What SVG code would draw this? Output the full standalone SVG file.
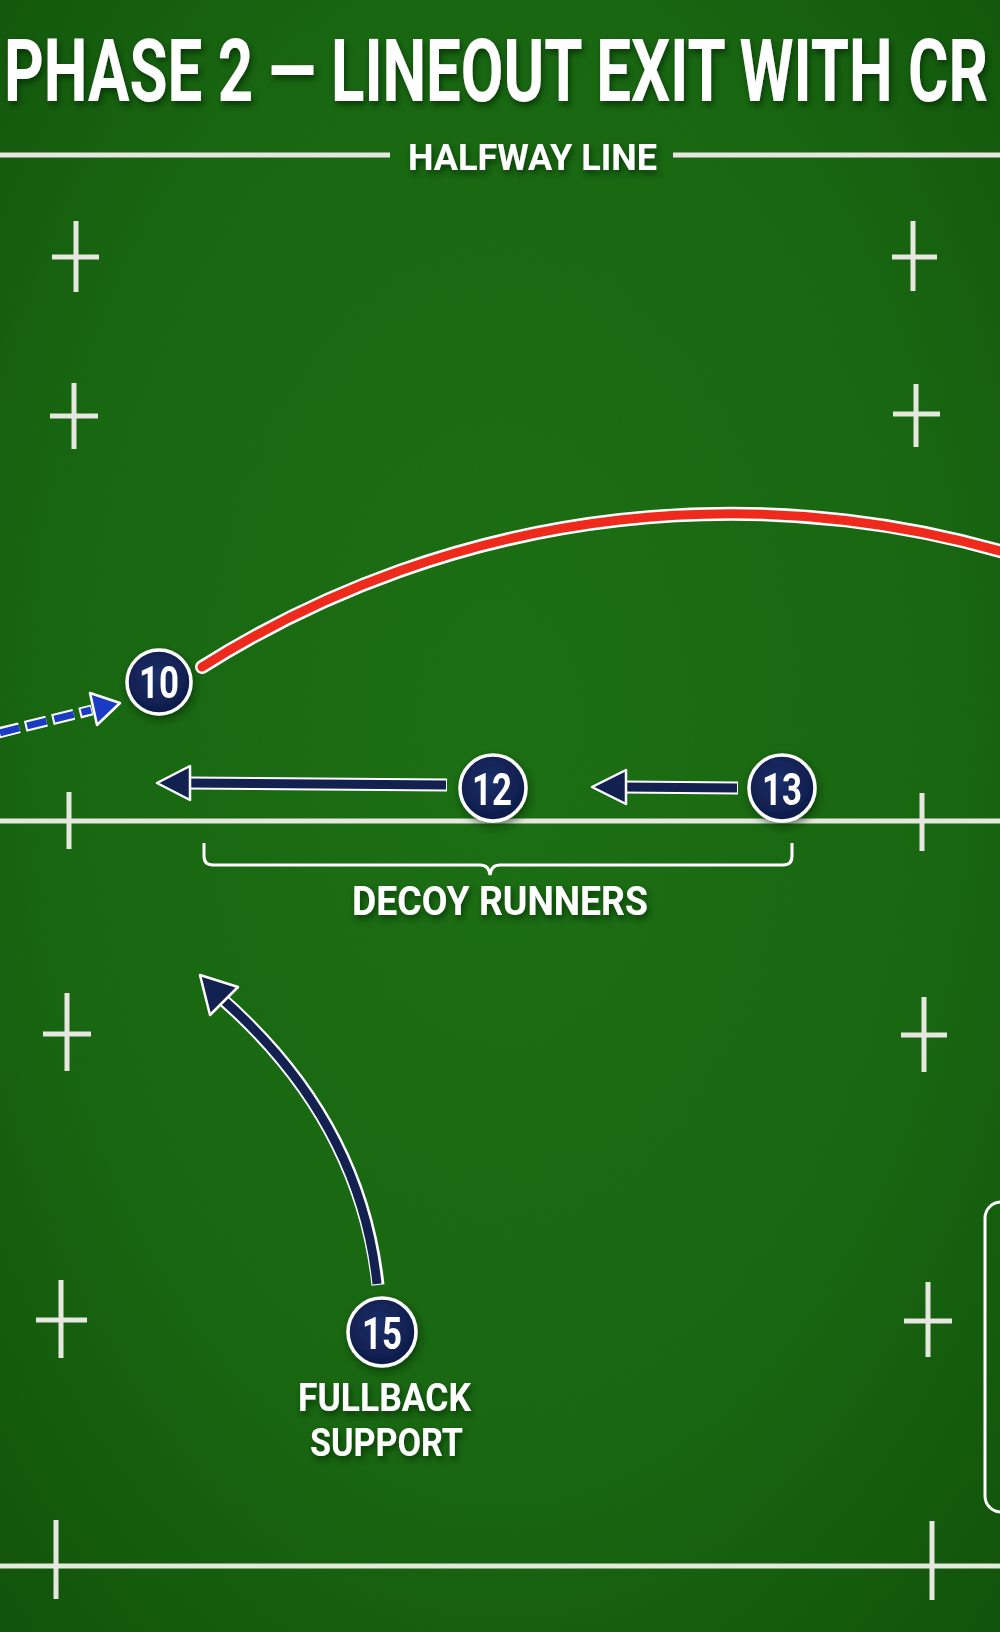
<svg xmlns="http://www.w3.org/2000/svg" width="1000" height="1632" viewBox="0 0 1000 1632">
<defs>
<radialGradient id="grass" cx="0.5" cy="0.45" r="0.75">
<stop offset="0" stop-color="#1f7116"/>
<stop offset="0.6" stop-color="#1b6813"/>
<stop offset="1" stop-color="#13520b"/>
</radialGradient>
<radialGradient id="navy" cx="0.45" cy="0.4" r="0.65">
<stop offset="0" stop-color="#1c2f6a"/>
<stop offset="1" stop-color="#0c1a45"/>
</radialGradient>
<filter id="noise" x="0" y="0" width="100%" height="100%">
<feTurbulence type="fractalNoise" baseFrequency="0.9" numOctaves="2" seed="3" result="n"/>
<feColorMatrix in="n" type="matrix" values="0 0 0 0 0  0 0 0 0 0.1  0 0 0 0 0  0 0 0 0.18 0"/>
</filter>
<filter id="ts" x="-10%" y="-30%" width="120%" height="160%">
<feDropShadow dx="2" dy="4" stdDeviation="3" flood-color="#062a02" flood-opacity="0.7"/>
</filter>
<filter id="cs" x="-30%" y="-30%" width="160%" height="160%">
<feDropShadow dx="2" dy="4" stdDeviation="4" flood-color="#042002" flood-opacity="0.55"/>
</filter>
<style>
.mark{stroke:#e6e8e0;stroke-width:5;fill:none}
.ttl{font-family:Roboto,"Liberation Sans",sans-serif;font-weight:700;fill:#ffffff}
.num{font-family:Roboto,"Liberation Sans",sans-serif;font-weight:700;fill:#ffffff;font-size:45px;text-anchor:middle}
.pc{fill:url(#navy);stroke:#ffffff;stroke-width:3.5}
</style>
</defs>

<rect width="1000" height="1632" fill="url(#grass)"/>
<rect width="1000" height="1632" filter="url(#noise)"/>

<g id="field-markings">
<line class="mark" x1="0" y1="155" x2="390" y2="155" stroke-width="4"/>
<line class="mark" x1="673" y1="155" x2="1000" y2="155" stroke-width="4"/>
<line class="mark" x1="0" y1="821" x2="1000" y2="821" stroke-width="4"/>
<line class="mark" x1="0" y1="1566" x2="1000" y2="1566" stroke-width="7"/>
<line class="mark" x1="69" y1="792" x2="69" y2="849"/>
<line class="mark" x1="922" y1="793" x2="922" y2="851"/>
<line class="mark" x1="56" y1="1520" x2="56" y2="1599"/>
<line class="mark" x1="932" y1="1521" x2="932" y2="1600"/>
<path class="mark" d="M76 221V292M52 257H99"/>
<path class="mark" d="M74 383V449M50 416H98"/>
<path class="mark" d="M913 221V291M892 257H937"/>
<path class="mark" d="M916 384V447M893 414H940"/>
<path class="mark" d="M67 993V1071M43 1034H91"/>
<path class="mark" d="M61 1280V1358M36 1320H87"/>
<path class="mark" d="M924 997V1072M901 1035H947"/>
<path class="mark" d="M928 1282V1357M904 1321H952"/>
<rect x="985" y="1202" width="60" height="310" rx="16" fill="none" stroke="#ffffff" stroke-width="3"/>
</g>

<g id="title" filter="url(#ts)">
<text class="ttl" x="4" y="101" font-size="88" textLength="984" lengthAdjust="spacingAndGlyphs">PHASE 2 — LINEOUT EXIT WITH CR</text>
</g>
<g id="halfway-label" filter="url(#ts)">
<text class="ttl" x="408" y="170" font-size="37" textLength="249" lengthAdjust="spacingAndGlyphs">HALFWAY LINE</text>
</g>

<g id="connectors">
<path d="M202 667 A990 990 0 0 1 1060 570" stroke="#ffffff" stroke-width="14" fill="none" stroke-linecap="round"/>
<path d="M202 667 A990 990 0 0 1 1060 570" stroke="#ee2a1c" stroke-width="9" fill="none" stroke-linecap="round"/>
<path d="M-2 733 L92 710" stroke="#ffffff" stroke-width="11" fill="none" stroke-dasharray="22 6"/>
<path d="M-1 733 L91 710" stroke="#1a3cc4" stroke-width="7" fill="none" stroke-dasharray="20 8" stroke-dashoffset="-1"/>
<polygon points="120,703 90,693 97,725" fill="#1a3cc4" stroke="#ffffff" stroke-width="2.5" stroke-linejoin="round"/>
<line x1="447" y1="785" x2="188" y2="783" stroke="#ffffff" stroke-width="13"/>
<line x1="446" y1="785" x2="186" y2="783" stroke="#12214f" stroke-width="9"/>
<polygon points="157,783 190,766 190,800" fill="#12214f" stroke="#ffffff" stroke-width="2.5" stroke-linejoin="round"/>
<line x1="738" y1="788" x2="624" y2="787" stroke="#ffffff" stroke-width="13"/>
<line x1="737" y1="788" x2="622" y2="787" stroke="#12214f" stroke-width="9"/>
<polygon points="592,787 626,770 626,804" fill="#12214f" stroke="#ffffff" stroke-width="2.5" stroke-linejoin="round"/>
<path d="M378 1285 Q360 1120 222 999" stroke="#ffffff" stroke-width="13" fill="none"/>
<path d="M377 1284 Q360 1120 220 997" stroke="#12214f" stroke-width="9" fill="none"/>
<polygon points="200,975 238,987 210,1015" fill="#12214f" stroke="#ffffff" stroke-width="2.5" stroke-linejoin="round"/>
<path d="M204 843 V856 Q204 865 213 865 H480 Q489 865 490 875 Q491 865 500 865 H783 Q792 865 792 856 V843" stroke="#ffffff" stroke-width="3" fill="none"/>
</g>

<g id="player-10" filter="url(#cs)">
<circle class="pc" cx="159" cy="682" r="32"/>
<text class="num" x="159" y="698" textLength="40" lengthAdjust="spacingAndGlyphs">10</text>
</g>
<g id="player-12" filter="url(#cs)">
<circle class="pc" cx="493" cy="788" r="33"/>
<text class="num" x="492" y="805" textLength="40" lengthAdjust="spacingAndGlyphs">12</text>
</g>
<g id="player-13" filter="url(#cs)">
<circle class="pc" cx="782" cy="788" r="33"/>
<text class="num" x="782" y="805" textLength="40" lengthAdjust="spacingAndGlyphs">13</text>
</g>
<g id="player-15" filter="url(#cs)">
<circle class="pc" cx="382" cy="1332" r="34"/>
<text class="num" x="382" y="1349" textLength="40" lengthAdjust="spacingAndGlyphs">15</text>
</g>

<g id="label-decoy" filter="url(#ts)">
<text class="ttl" x="352" y="915" font-size="41" textLength="296" lengthAdjust="spacingAndGlyphs">DECOY RUNNERS</text>
</g>
<g id="label-fullback" filter="url(#ts)">
<text class="ttl" x="298" y="1411" font-size="39" textLength="173" lengthAdjust="spacingAndGlyphs">FULLBACK</text>
<text class="ttl" x="310" y="1456" font-size="39" textLength="153" lengthAdjust="spacingAndGlyphs">SUPPORT</text>
</g>
</svg>
